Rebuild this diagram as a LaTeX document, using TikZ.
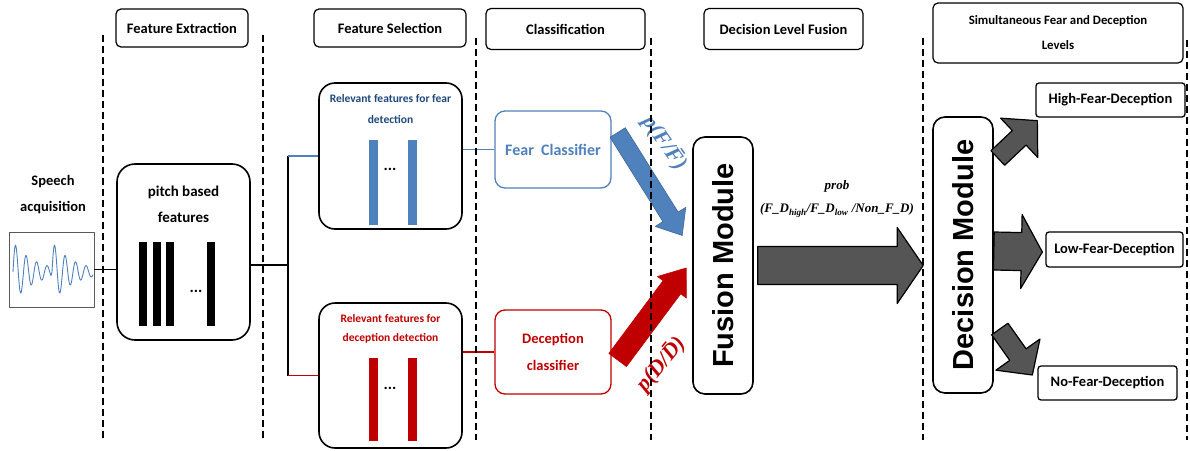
\documentclass[tikz,border=0pt]{standalone}
\usepackage{fontspec}
\setmainfont{Carlito}
\newfontfamily\modfont{Liberation Sans}
\newfontfamily\probfont{Liberation Serif}
\usetikzlibrary{calc}

\definecolor{fearblue}{HTML}{4F81BD}
\definecolor{fearnavy}{HTML}{1F497D}
\definecolor{decred}{HTML}{C00000}
\definecolor{arrowgrey}{HTML}{555555}

% block arrow: tail, tip, shaft half width, head half width, head length, style
\newcommand{\blockarrow}[6]{%
	\coordinate (ba-h) at ($(#2)!#5!(#1)$);
	\filldraw[#6] ($(#1)!#3!90:(#2)$) -- ($(ba-h)!#3!90:(#2)$) -- ($(ba-h)!#4!90:(#2)$) -- (#2)
		-- ($(ba-h)!#4!-90:(#2)$) -- ($(ba-h)!#3!-90:(#2)$) -- ($(#1)!#3!-90:(#2)$) -- cycle;
}

\begin{document}
\begin{tikzpicture}[x=1pt,y=-1pt,line join=round,
	hdr/.style={draw,line width=1.2pt,rounded corners=5pt,fill=white,inner sep=0pt,
		font=\fontsize{14.5}{16}\selectfont\bfseries,align=center},
	blk/.style={draw,line width=1.6pt,rounded corners=16pt,fill=white,inner sep=0pt},
	clsbox/.style={draw,line width=1.3pt,rounded corners=10pt,fill=white,inner sep=0pt,
		minimum width=116pt,font=\fontsize{16}{18}\selectfont\bfseries,align=center},
	modbox/.style={draw,line width=1.6pt,rounded corners=12pt,fill=white,inner sep=0pt,minimum width=60pt},
	modtext/.style={rotate=90,font=\modfont\fontsize{29}{32}\selectfont\bfseries},
	outbox/.style={draw,line width=1.3pt,rounded corners=3pt,fill=white,inner sep=0pt,
		minimum height=34pt,font=\fontsize{14.5}{16}\selectfont\bfseries},
	plabel/.style={font=\probfont\fontsize{22}{24}\selectfont\bfseries\itshape},
	dots/.style={font=\fontsize{16}{18}\selectfont\bfseries},
	sepline/.style={dash pattern=on 7pt off 4pt,line width=1.1pt}]
	\useasboundingbox (0,0) rectangle (1190,450);

	% stage headers
	\node[hdr,minimum width=132pt,minimum height=38pt] (exthdr) at (182,28) {Feature Extraction};
	\node[hdr,minimum width=152pt,minimum height=38pt] (selhdr) at (390,28) {Feature Selection};
	\node[hdr,minimum width=159pt,minimum height=41pt] (clshdr) at (565.5,29) {Classification};
	\node[hdr,minimum width=159pt,minimum height=41pt] (fushdr) at (783.5,29) {Decision Level Fusion};
	\node[hdr,minimum width=250pt,minimum height=60pt,font=\fontsize{12.8}{25}\selectfont\bfseries]
		(levhdr) at (1058,33) {Simultaneous Fear and Deception\\Levels};

	% speech input
	\node[font=\fontsize{14.5}{26}\selectfont\bfseries,align=center] (speech) at (53,195) {Speech\\acquisition};
	\node[draw=black!65,line width=0.8pt,minimum width=85pt,minimum height=75pt,inner sep=0pt] (wave) at (51.5,269.5) {};
	\draw[fearblue,line width=0.9pt] plot[domain=0:38,samples=120] ({13+\x},{272-30*exp(-\x/22)*sin(360*\x/10.5)})
		-- plot[domain=0:41,samples=120] ({52+\x},{272-30*exp(-\x/22)*sin(360*\x/10.5)});

	% feature extraction
	\node[blk,rounded corners=18pt,minimum width=133pt,minimum height=176pt] (pitch) at (183.5,252) {};
	\node[font=\fontsize{15}{26}\selectfont\bfseries,align=center] (pitchlbl) at (183.5,204) {pitch based\\features};
	\foreach \bx in {139,153,166,207}
		\fill (\bx,242) rectangle ++(8,84);
	\node[dots] (pitchdots) at (196,291) {...};

	% feature selection
	\node[blk,minimum width=143pt,minimum height=146pt] (fearrel) at (390.5,156) {};
	\node[blk,minimum width=143pt,minimum height=145pt] (decrel) at (390.5,375.5) {};
	\node[text=fearnavy,font=\fontsize{11.5}{21}\selectfont\bfseries,align=center] (fearrellbl) at (390.5,109.5)
		{Relevant features for fear\\detection};
	\node[text=decred,font=\fontsize{11.5}{19}\selectfont\bfseries,align=center] (decrellbl) at (390.5,328.5)
		{Relevant features for\\deception detection};
	\foreach \bx in {369,408} {
		\fill[fearblue] (\bx,140) rectangle ++(9,85);
		\fill[decred] (\bx,358) rectangle ++(9,83);
	}
	\node[dots] (feardots) at (390,169) {...};
	\node[dots] (decdots) at (390,388) {...};

	% classifiers
	\node[clsbox,draw=fearblue,text=fearblue,minimum height=77pt] (fearcls) at (553,149.5) {Fear~~Classifier};
	\node[clsbox,draw=decred,text=decred,minimum height=84pt,font=\fontsize{14.5}{27}\selectfont\bfseries]
		(deccls) at (553,352) {Deception\\classifier};

	% fusion and decision
	\node[modbox,minimum height=257pt] (fusion) at (723,265.5) {};
	\node[modtext] (fusionlbl) at (fusion.center) {Fusion Module};
	\node[modbox,minimum height=276pt] (decision) at (963,255) {};
	\node[modtext] (decisionlbl) at (decision.center) {Decision Module};

	% outputs
	\node[outbox,minimum width=149pt] (high) at (1110.5,100) {High-Fear-Deception};
	\node[outbox,minimum width=137pt,minimum height=35pt] (low) at (1114.5,249.5) {Low-Fear-Deception};
	\node[outbox,minimum width=139pt] (nofd) at (1107.5,383) {No-Fear-Deception};

	% connections
	\coordinate (split) at (288,265);
	\draw[line width=1.3pt] (wave.east) -- (pitch.west |- wave.east);
	\draw[line width=1.3pt] (pitch.east |- split) -- (split);
	\draw[line width=1.3pt] (split |- fearrel.west) -- (split |- decrel.west);
	\draw[fearblue,line width=1.3pt] (split |- fearrel.west) -- (fearrel.west);
	\draw[decred,line width=1.3pt] (split |- decrel.west) -- (decrel.west);
	\draw[fearblue,line width=1.3pt] (fearrel.east |- fearcls.west) -- (fearcls.west);
	\draw[decred,line width=1.3pt] (decrel.east |- deccls.west) -- (deccls.west);

	% block arrows
	\coordinate (fa1) at ($(fearcls.east)+(6,-17)$);
	\coordinate (fa2) at ($(fusion.west)+(-10,-30)$);
	\blockarrow{fa1}{fa2}{9pt}{18pt}{22pt}{draw=fearblue!80!black,fill=fearblue,line width=0.6pt}
	\coordinate (da1) at ($(deccls.east)+(6,8)$);
	\coordinate (da2) at ($(fusion.west)+(-6,2.5)$);
	\blockarrow{da1}{da2}{11pt}{18pt}{24pt}{draw=decred,fill=decred,line width=0.6pt}
	\coordinate (ga1) at ($(fusion.east)+(4,0)$);
	\coordinate (ga2) at ($(decision.west)+(-9,10.5)$);
	\blockarrow{ga1}{ga2}{19pt}{38pt}{26pt}{draw=black,fill=arrowgrey,line width=1.2pt}
	\coordinate (ha1) at ($(decision.east)+(4,-97)$);
	\coordinate (ha2) at ($(high.south west)+(2,3)$);
	\blockarrow{ha1}{ha2}{10pt}{27pt}{25pt}{draw=black,fill=arrowgrey,line width=1.2pt}
	\coordinate (la1) at ($(decision.east)+(0,-4)$);
	\coordinate (la2) at ($(low.west)+(-3,2.5)$);
	\blockarrow{la1}{la2}{19pt}{37pt}{21pt}{draw=black,fill=arrowgrey,line width=1.2pt}
	\coordinate (na1) at ($(decision.east)+(6,74)$);
	\coordinate (na2) at ($(nofd.west)+(-5,-8)$);
	\blockarrow{na1}{na2}{10pt}{27pt}{25pt}{draw=black,fill=arrowgrey,line width=1.2pt}

	% probability labels
	\node[plabel,text=fearblue,rotate=-55] (pfear) at (665,143) {p(F/\={F})};
	\node[plabel,text=decred,rotate=50] (pdec) at (661,364) {p(D/\={D})};
	\node[font=\probfont\fontsize{13}{23}\selectfont\bfseries\itshape,align=center] (problbl) at (837,199)
		{prob\\(F\_D\textsubscript{high}/F\_D\textsubscript{low} /Non\_F\_D)};

	% stage separators
	\foreach \xx/\ys in {103/35,263/35,476/38,651/38,923/38,1187/40}
		\draw[sepline] (\xx,\ys) -- (\xx,440);
\end{tikzpicture}
\end{document}
